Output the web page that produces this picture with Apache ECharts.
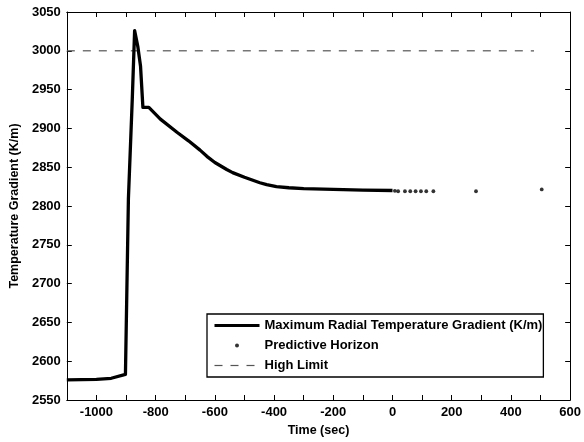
<!DOCTYPE html>
<html>
<head>
<meta charset="utf-8">
<script src="https://cdn.jsdelivr.net/npm/echarts@6/dist/echarts.min.js"></script>
<style>
html,body{margin:0;padding:0;background:#fff;}
#chart{width:584px;height:442px;}
</style>
</head>
<body>
<div id="chart"></div>
<script>
// Maximum radial temperature gradient (time sec, K/m)
var gradTime = [-1100, -1000, -950, -902, -892, -879, -871, -860, -851, -843, -823, -784, -728, -689, -650, -627, -600, -560, -540, -500, -448, -425, -392, -350, -300, -200, -100, 0];
var gradValue = [2576, 2576.5, 2578, 2583, 2809, 2937, 3026, 3005, 2980, 2927, 2927, 2912, 2895, 2884, 2872, 2864, 2856, 2847, 2843, 2837, 2830, 2827.5, 2825, 2823.5, 2822.5, 2821.5, 2820.5, 2820];
// Predictive horizon points
var horizonTime = [8, 19, 42, 60, 78, 96, 114, 138, 282, 504];
var horizonValue = [2819.5, 2819, 2819, 2819, 2819, 2819, 2819, 2819, 2819, 2821.4];
// High limit
var limitTime = [-1100, 478];
var limitValue = [3000, 3000];
var names = ['Maximum Radial Temperature Gradient (K/m)', 'Predictive Horizon', 'High Limit'];

function zip(a, b) { return a.map(function (v, i) { return [v, b[i]]; }); }
function isMajorX(v) { return (Number(v) + 1000) % 200 === 0; }

var FONT = 'Liberation Sans, Arial, sans-serif';
var chart = echarts.init(document.getElementById('chart'), null, { renderer: 'canvas' });

var option = {
  animation: false,
  backgroundColor: '#fff',
  grid: { left: 66, right: 12, top: 12, bottom: 40, containLabel: false },
  xAxis: [{
    type: 'value', min: -1100, max: 600, interval: 100,
    name: 'Time (sec)', nameLocation: 'middle', nameGap: 24,
    nameTextStyle: { fontFamily: FONT, fontWeight: 'bold', fontSize: 12.5, color: '#000' },
    axisLine: { show: true, onZero: false, lineStyle: { color: '#000', width: 1 } },
    axisTick: { show: true, inside: true, length: 5, lineStyle: { color: '#000' },
      interval: function (i, v) { return isMajorX(v); } },
    axisLabel: { show: true, margin: 6, fontFamily: FONT, fontWeight: 'bold', fontSize: 13, color: '#000',
      formatter: function (v) { return isMajorX(v) ? String(v) : ''; } },
    splitLine: { show: false }
  }, {
    type: 'value', min: -1100, max: 600, interval: 100, position: 'top',
    axisLine: { show: true, onZero: false, lineStyle: { color: '#000', width: 1 } },
    axisTick: { show: true, inside: true, length: 5, lineStyle: { color: '#000' },
      interval: function (i, v) { return isMajorX(v); } },
    axisLabel: { show: false },
    splitLine: { show: false }
  }],
  yAxis: [{
    type: 'value', min: 2550, max: 3050, interval: 50,
    name: 'Temperature Gradient (K/m)', nameLocation: 'middle', nameGap: 42, nameRotate: 90,
    nameTextStyle: { fontFamily: FONT, fontWeight: 'bold', fontSize: 12.5, color: '#000' },
    axisLine: { show: true, onZero: false, lineStyle: { color: '#000', width: 1 } },
    axisTick: { show: true, inside: true, length: 5, lineStyle: { color: '#000' } },
    axisLabel: { show: true, margin: 6, fontFamily: FONT, fontWeight: 'bold', fontSize: 13, color: '#000',
      formatter: function (v) { return String(v); } },
    splitLine: { show: false }
  }, {
    type: 'value', min: 2550, max: 3050, interval: 50, position: 'right',
    axisLine: { show: true, onZero: false, lineStyle: { color: '#000', width: 1 } },
    axisTick: { show: true, inside: true, length: 5, lineStyle: { color: '#000' } },
    axisLabel: { show: false },
    splitLine: { show: false }
  }],
  legend: {
    orient: 'vertical', left: 207, top: 314,
    backgroundColor: '#fff', borderColor: '#000', borderWidth: 1.3,
    padding: [5, 1, 5, 6], itemGap: 7, itemWidth: 45, itemHeight: 4,
    textStyle: { fontFamily: FONT, fontWeight: 'bold', fontSize: 13, color: '#000' },
    data: [
      { name: names[0], itemStyle: { opacity: 0 }, lineStyle: { color: '#000', width: 3 } },
      { name: names[1], itemStyle: { color: '#000' }, lineStyle: { opacity: 0 } },
      { name: names[2], itemStyle: { opacity: 0 }, lineStyle: { color: '#555', width: 1.2, type: [8, 8] } }
    ]
  },
  series: [{
    name: names[0], type: 'line', xAxisIndex: 0, yAxisIndex: 0,
    data: zip(gradTime, gradValue), showSymbol: false, symbol: 'none',
    lineStyle: { color: '#000', width: 3.3, join: 'round' }, itemStyle: { color: '#000' }, z: 3
  }, {
    name: names[1], type: 'scatter', xAxisIndex: 0, yAxisIndex: 0,
    data: zip(horizonTime, horizonValue), symbol: 'circle', symbolSize: 3.8,
    itemStyle: { color: '#000' }, z: 4
  }, {
    name: names[2], type: 'line', xAxisIndex: 0, yAxisIndex: 0,
    data: zip(limitTime, limitValue), showSymbol: false, symbol: 'none',
    lineStyle: { color: '#555', width: 1.2, type: [8, 8] }, itemStyle: { color: '#555' }, z: 2
  }]
};
chart.setOption(option);
</script>
</body>
</html>
